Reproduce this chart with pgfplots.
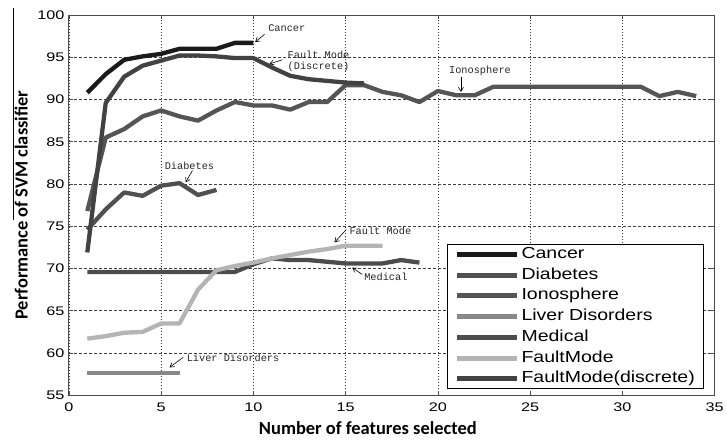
\documentclass[border=0pt]{standalone}
\usepackage{pgfplots}
\pgfplotsset{compat=1.18}
\usepackage{fontspec}
\setmainfont{Liberation Sans}
\newfontfamily\tickfont[FakeStretch=1.3]{Liberation Sans}
\newfontfamily\legfont[FakeStretch=1.22]{Liberation Sans}
\newfontfamily\labfont{Carlito}
\newfontfamily\annfont{Liberation Mono}
\usetikzlibrary{arrows.meta}
\definecolor{cCancer}{HTML}{1A1A1A}
\definecolor{cDiab}{HTML}{505050}
\definecolor{cIono}{HTML}{555555}
\definecolor{cLiver}{HTML}{888888}
\definecolor{cMed}{HTML}{4C4C4C}
\definecolor{cFM}{HTML}{B4B4B4}
\definecolor{cFMD}{HTML}{424242}
\begin{document}
\begin{tikzpicture}
\begin{axis}[
  width=647pt, height=381pt, scale only axis,
  xmin=0, xmax=35, ymin=55, ymax=100,
  xtick={0,5,...,35}, ytick={55,60,...,100},
  /pgf/number format/assume math mode=true,
  tick label style={font=\tickfont\fontsize{12.5}{14}\selectfont},
  xticklabel style={yshift=-4pt},
  yticklabel style={xshift=-1pt},
  grid=major,
  x grid style={black!80, line width=0.6pt, dash pattern=on 1pt off 2pt},
  y grid style={black!75, line width=0.6pt, dash pattern=on 3pt off 2pt},
  axis line style={black!70, line width=0.8pt},
  tick style={black!70, line width=0.6pt},
  major tick length=4pt,
  xlabel={Number of features selected},
  ylabel={Performance of SVM classifier},
  label style={font=\labfont\bfseries\fontsize{18.5}{20}\selectfont},
  xlabel style={at={(axis description cs:0.463,-0.102)}, anchor=base, inner sep=0pt},
  ylabel style={at={(axis description cs:-0.064,0.5)}, anchor=base, inner sep=0pt},
  legend style={at={(rel axis cs:0.586,0.016)}, anchor=south west, draw=black, line width=0.8pt, fill=white,
    font=\legfont\fontsize{16}{17}\selectfont, row sep=6.8pt, inner xsep=7pt, inner ysep=3pt,
    nodes={text height=11pt, text depth=3pt, inner ysep=0pt},
    /tikz/every even column/.append style={column sep=0pt}},
  legend cell align=left,
  legend image code/.code={\draw[#1, line width=5pt] (0pt,0pt) -- (60pt,0pt);},
  every axis plot/.append style={line width=4.3pt, line join=round},
  clip=false,
]
\addplot[cCancer] coordinates {(1,90.8)(2,93)(3,94.7)(4,95.1)(5,95.4)(6,96)(7,96)(8,96)(9,96.7)(10,96.7)};
\addlegendentry{Cancer}
\addplot[cDiab] coordinates {(1,74.6)(2,77)(3,79)(4,78.6)(5,79.8)(6,80.1)(7,78.7)(8,79.3)};
\addlegendentry{Diabetes}
\addplot[cIono] coordinates {(1,76.8)(2,85.5)(3,86.5)(4,88)(5,88.7)(6,88)(7,87.5)(8,88.7)(9,89.7)(10,89.3)(11,89.3)(12,88.8)(13,89.7)(14,89.7)(15,91.7)(16,91.7)(17,90.9)(18,90.5)(19,89.7)(20,91)(21,90.5)(22,90.5)(23,91.5)(24,91.5)(25,91.5)(26,91.5)(27,91.5)(28,91.5)(29,91.5)(30,91.5)(31,91.5)(32,90.4)(33,90.9)(34,90.4)};
\addlegendentry{Ionosphere}
\addplot[cLiver] coordinates {(1,57.6)(2,57.6)(3,57.6)(4,57.6)(5,57.6)(6,57.6)};
\addlegendentry{Liver Disorders}
\addplot[cMed] coordinates {(1,69.6)(2,69.6)(3,69.6)(4,69.6)(5,69.6)(6,69.6)(7,69.6)(8,69.6)(9,69.6)(10,70.5)(11,71.2)(12,71)(13,71)(14,70.8)(15,70.6)(16,70.6)(17,70.6)(18,71)(19,70.7)};
\addlegendentry{Medical}
\addplot[cFM] coordinates {(1,61.7)(2,62)(3,62.4)(4,62.5)(5,63.5)(6,63.5)(7,67.5)(8,69.8)(9,70.3)(10,70.7)(11,71.2)(12,71.6)(13,72)(14,72.3)(15,72.7)(16,72.7)(17,72.7)};
\addlegendentry{FaultMode}
\addplot[cFMD] coordinates {(1,71.9)(2,89.6)(3,92.7)(4,94)(5,94.6)(6,95.2)(7,95.2)(8,95.1)(9,94.9)(10,94.9)(11,93.8)(12,92.8)(13,92.4)(14,92.2)(15,92)(16,91.9)};
\addlegendentry{FaultMode(discrete)}

\begin{scope}[every node/.style={font=\annfont\fontsize{10.3}{11.5}\selectfont, inner sep=0pt, anchor=west, text=black!85}]
\node at (axis cs:10.8,98.5) {Cancer};
\node[align=left] at (axis cs:11.85,94.5) {Fault Mode\\(Discrete)};
\node at (axis cs:20.6,93.4) {Ionosphere};
\node at (axis cs:5.19,82.2) {Diabetes};
\node at (axis cs:15.2,74.5) {Fault Mode};
\node at (axis cs:16.0,69.05) {Medical};
\node at (axis cs:6.38,59.4) {Liver Disorders};
\end{scope}
\begin{scope}[black, line width=0.6pt, -{Straight Barb[length=4pt,width=5pt]}]
\draw (axis cs:10.6,97.7) -- (axis cs:10.1,96.8);
\draw (axis cs:11.57,94.7) -- (axis cs:10.87,94.2);
\draw (axis cs:21.25,92.7) -- (axis cs:21.25,90.9);
\draw (axis cs:6.7,81.6) -- (axis cs:6.33,80.2);
\draw (axis cs:15.03,74.6) -- (axis cs:14.4,73.1);
\draw (axis cs:15.9,69.3) -- (axis cs:15.36,70.1);
\draw (axis cs:6.2,59.5) -- (axis cs:5.46,58.3);
\end{scope}
\draw[black, line width=0.6pt] (rel axis cs:-0.0866,1.018) -- (rel axis cs:-0.0866,0.462);
\path (rel axis cs:-0.1066,-0.1155) rectangle (rel axis cs:1.017,1.0394);
\end{axis}
\end{tikzpicture}
\end{document}
